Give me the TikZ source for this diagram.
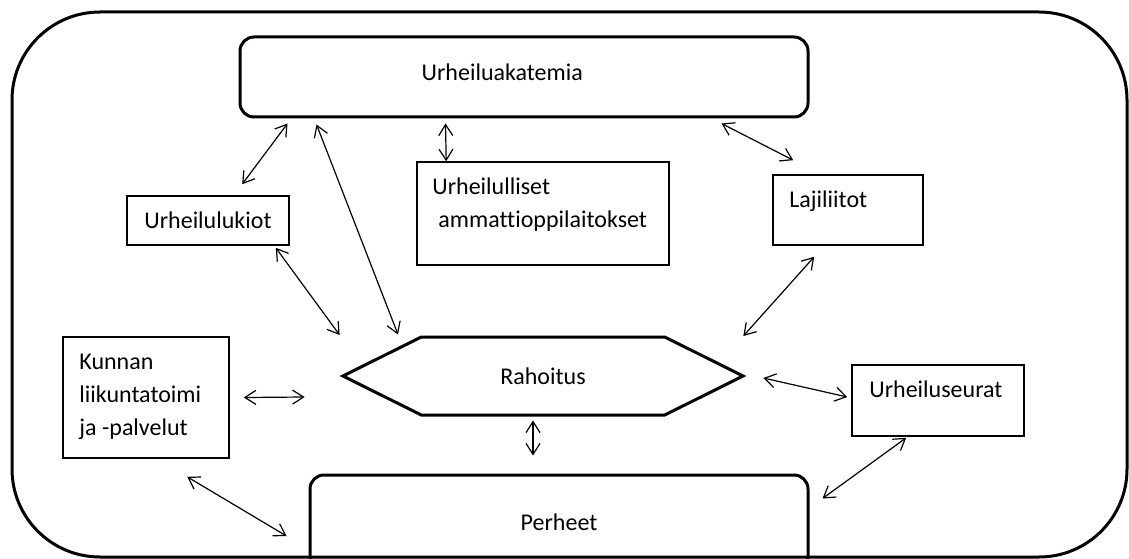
\documentclass[tikz,border=0pt]{standalone}
\usepackage{fontspec}
\setmainfont{Carlito}[Ligatures=NoCommon]
\usetikzlibrary{arrows.meta,shapes.symbols,calc}

\begin{document}
\begin{tikzpicture}[x=1pt, y=-1pt,
    txt/.style={font=\fontsize{24}{33}\selectfont},
    bigbox/.style={rectangle, rounded corners=14pt, draw, line width=3pt,
      inner sep=0pt, txt},
    smallbox/.style={rectangle, draw, line width=1.6pt, inner sep=0pt, txt},
    inlabel/.style={anchor=base west, inner sep=0pt, xshift=17pt,
      yshift=-33pt, txt},
    link/.style={{Straight Barb[length=11pt,width=14pt]}-{Straight Barb[length=11pt,width=14pt]},
      line width=1.2pt}
  ]
    \useasboundingbox (0,0) rectangle (1129,559);
    \clip (0,0) rectangle (1129,559);

    % Kehys
    \draw[line width=3pt, rounded corners=88pt] (12,12) rectangle (1127,557);

    % Laatikot
    \node[bigbox, minimum width=568pt, minimum height=80pt,
      label={[inlabel, xshift=166pt, yshift=-12pt]north west:Urheiluakatemia}]
      (akat) at (524,77) {};
    \node[smallbox, minimum width=162pt, minimum height=49pt]
      (lukiot) at (208,220.5) {Urheilulukiot};
    \node[smallbox, minimum width=252pt, minimum height=103pt,
      label={[inlabel, xshift=-1pt]north west:{\begin{tabular}[t]{@{}l@{}}Urheilulliset\\\hspace*{6pt}ammattioppilaitokset\end{tabular}}}]
      (ammatti) at (543,213.5) {};
    \node[smallbox, minimum width=150pt, minimum height=70pt,
      label={[inlabel]north west:Lajiliitot}]
      (laji) at (848,210) {};
    \node[smallbox, minimum width=166pt, minimum height=121pt,
      label={[inlabel]north west:{\begin{tabular}[t]{@{}l@{}}Kunnan\\liikuntatoimi\\ja -palvelut\end{tabular}}}]
      (kunnan) at (146,397.5) {};
    \node[signal, signal to=east and west, signal pointer angle=53, draw,
      line width=3pt, inner sep=0pt, minimum width=400pt, minimum height=78pt, txt]
      (raha) at (543,376) {Rahoitus};
    \node[smallbox, minimum width=172pt, minimum height=71pt,
      label={[inlabel, xshift=1pt]north west:Urheiluseurat}]
      (seurat) at (938,400.5) {};
    \node[bigbox, minimum width=498pt, minimum height=95pt]
      (perheet) at (559,522.5) {Perheet};

    % Yhteydet
    \draw[link] ($(lukiot.north west)+(116,-11)$) -- ($(akat.south west)+(49,5)$);
    \draw[link] ($(akat.south west)+(78,6)$) -- ($(raha.north)+(-145,-1)$);
    \draw[link] ($(lukiot.south east)+(-14,2)$) -- ($(raha.west)+(0,-41)$);
    \draw[link] ($(akat.south west)+(207,5)$) -- ($(ammatti.north west)+(30,0)$);
    \draw[link] ($(akat.south east)+(-88,5)$) -- ($(laji.north west)+(21,-14)$);
    \draw[link] ($(laji.south west)+(42,11)$) -- ($(raha.east)+(-3,-40)$);
    \draw[link] ($(kunnan.east)+(14,0)$) -- ($(raha.west)+(-35,21)$);
    \draw[link] ($(raha.east)+(17,2)$) -- ($(seurat.west)+(-4,-3.5)$);
    \draw[link] ($(raha.south)+(-10,4)$) -- ($(perheet.north)+(-26,-18)$);
    \draw[link] ($(kunnan.south west)+(125,18)$) -- ($(perheet.west)+(-22,13.5)$);
    \draw[link] ($(seurat.south west)+(55,1)$) -- ($(perheet.north east)+(13,25)$);
  \end{tikzpicture}
\end{document}
